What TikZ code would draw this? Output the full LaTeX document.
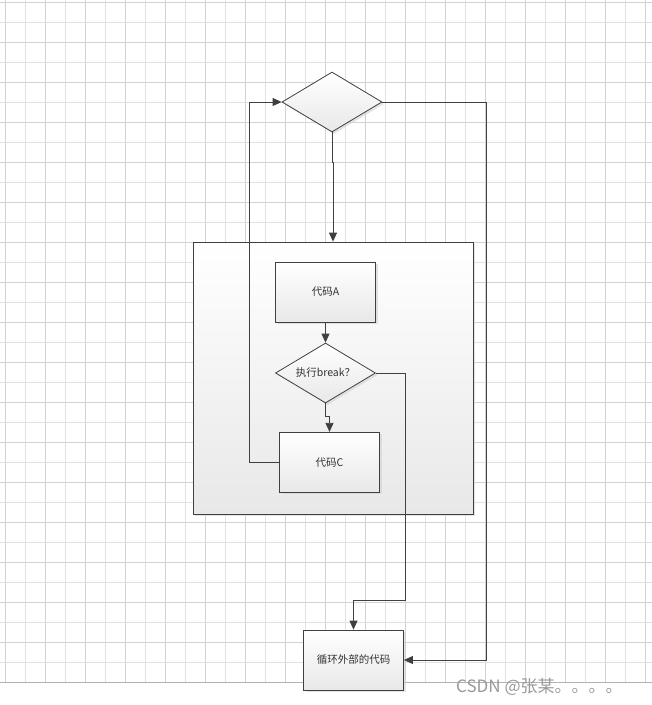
\documentclass[tikz,border=0pt]{standalone}
\usepackage{fontspec}
\newfontfamily\cjk{Noto Sans CJK SC}
\usetikzlibrary{arrows.meta,shapes.geometric,shadows}
\definecolor{gridA}{HTML}{D2D2D2}
\definecolor{gridB}{HTML}{E2E2E2}
\definecolor{linec}{HTML}{404040}
\definecolor{textc}{HTML}{333333}
\tikzset{
  boxbase/.style={draw=linec, line width=0.8pt, top color=white, bottom color=black!9,
    drop shadow={shadow xshift=2pt, shadow yshift=-2pt, fill=black!18, opacity=0.6},
    inner sep=0pt, font=\cjk\fontsize{10.5}{12}\selectfont, text=textc},
  stepbox/.style={boxbase, rectangle, minimum width=100pt, minimum height=60pt},
  decbox/.style={boxbase, diamond, minimum width=100pt, minimum height=60pt},
  lbl/.style={inner sep=0pt, font=\cjk\fontsize{10.5}{12}\selectfont, text=textc},
  arr/.style={draw=linec, line width=0.8pt, -{Triangle[length=9pt,width=8pt]}},
}
\begin{document}
\begin{tikzpicture}[x=1pt,y=-1pt]
\useasboundingbox (0,0) rectangle (652,705);
\fill[white] (0,0) rectangle (652,705);
% grid
\foreach \k in {0,...,32}{
  \pgfmathsetmacro{\xx}{5.5+20*\k}
  \ifodd\k \def\gc{gridB}\else\def\gc{gridA}\fi
  \draw[draw=\gc, line width=0.7pt] (\xx,0) -- (\xx,682.3);
}
\foreach \k in {0,...,33}{
  \pgfmathsetmacro{\yy}{2.3+20*\k}
  \ifodd\k \def\gc{gridB}\else\def\gc{gridA}\fi
  \draw[draw=\gc, line width=0.7pt] (0,\yy) -- (652,\yy);
}
\draw[draw=black!30, line width=0.8pt] (0,682.3) -- (652,682.3);
% nodes
\node[stepbox, minimum width=280pt, minimum height=272pt] (loop) at (333,378) {};
\node[decbox] (D0) at (332,102) {};
\node[stepbox] (A) at (325.5,292) {代码A};
\node[decbox] (D1) at (325.5,373) {};
\node[lbl] (D1t) at (D1.center) {执行break？};
\node[stepbox] (C) at (329.5,462.3) {代码C};
\node[stepbox] (E) at (353.5,660) {循环外部的代码};
% coordinates
\coordinate (j1) at (333,162);
\coordinate (r1) at (486.3,660);
\coordinate (l1) at (249.3,462.3);
\coordinate (j2) at (329.5,416.7);
\coordinate (r2) at (405.5,600);
% connectors
\draw[arr] (D0.south) |- (j1) -- (j1 |- loop.north);
\draw[arr] (D0.east) -| (r1) -- (E.east);
\draw[arr] (C.west) -- (l1) |- (D0.west);
\draw[arr] (A.south) -- (D1.north);
\draw[arr] (D1.south) |- (j2) -- (C.north);
\draw[arr] (D1.east) -| (r2) -| (E.north);
% watermark
\node[anchor=west, inner sep=0pt, text=black!40, font=\cjk\fontsize{17}{20}\selectfont] (wm) at (456,687) {CSDN @张某。。。。};
\end{tikzpicture}
\end{document}
